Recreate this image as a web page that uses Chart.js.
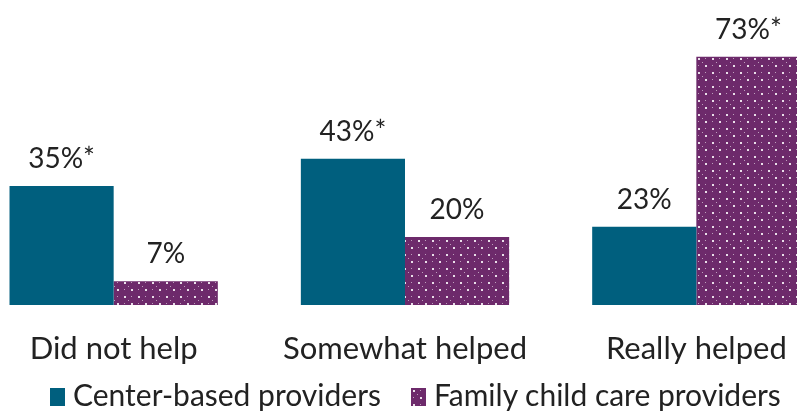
<!DOCTYPE html>
<html>
<head>
<meta charset="utf-8">
<script src="https://cdn.jsdelivr.net/npm/chart.js@4"></script>
<style>
  html, body { margin: 0; padding: 0; background: #fff; }
  #frame { position: relative; width: 797px; height: 412px; overflow: hidden; }
  #wrap { position: absolute; left: -32px; top: 0; width: 874px; height: 412px; }
  #legend { position: absolute; left: 50px; top: 380px; display: flex; align-items: flex-start;
            font: 30px Lato; line-height: 29px; color: #222; white-space: nowrap; }
  #legend canvas { margin-top: 8px; margin-right: 8px; }
  #legend span { margin-right: 30px; }
</style>
</head>
<body>
<div id="frame">
  <div id="wrap"><canvas id="chart"></canvas></div>
  <div id="legend"></div>
</div>
<script>
const categories = ['Did not help', 'Somewhat helped', 'Really helped'];
const seriesNames = ['Center-based providers', 'Family child care providers'];
const centerValues = [35, 43, 23];
const familyValues = [7, 20, 73];
const centerLabels = ['35%*', '43%*', '23%'];
const familyLabels = ['7%', '20%', '73%*'];

const teal = '#005F7E';
const purple = '#6D2A6B';

// dotted purple fill
function makePattern(g) {
  const c = document.createElement('canvas');
  c.width = 14; c.height = 14;
  const p = c.getContext('2d');
  p.fillStyle = purple;
  p.fillRect(0, 0, 14, 14);
  p.fillStyle = 'rgba(255,255,255,0.85)';
  p.fillRect(2, 2, 2, 2);
  p.fillRect(9, 9, 2, 2);
  p.fillStyle = 'rgba(255,255,255,0.55)';
  p.fillRect(9, 2, 1, 1);
  p.fillRect(2, 9, 1, 1);
  p.fillRect(6, 6, 1, 1);
  return g.createPattern(c, 'repeat');
}

const ctx = document.getElementById('chart').getContext('2d');
const dotted = makePattern(ctx);

const barLabels = {
  id: 'barLabels',
  afterDatasetsDraw(chart) {
    const g = chart.ctx;
    g.save();
    g.font = '28px Lato';
    g.fillStyle = '#222';
    g.textAlign = 'center';
    g.textBaseline = 'alphabetic';
    const sets = [centerLabels, familyLabels];
    chart.data.datasets.forEach((ds, i) => {
      chart.getDatasetMeta(i).data.forEach((bar, j) => {
        g.fillText(sets[i][j], bar.x, bar.y - 18);
      });
    });
    g.restore();
  }
};

new Chart(ctx, {
  type: 'bar',
  data: {
    labels: categories,
    datasets: [
      {
        label: seriesNames[0],
        data: centerValues,
        backgroundColor: teal,
        barPercentage: 1,
        categoryPercentage: 0.715
      },
      {
        label: seriesNames[1],
        data: familyValues,
        backgroundColor: dotted,
        barPercentage: 1,
        categoryPercentage: 0.715
      }
    ]
  },
  options: {
    responsive: true,
    maintainAspectRatio: false,
    animation: false,
    layout: { padding: 0 },
    plugins: {
      legend: { display: false },
      tooltip: { enabled: false }
    },
    scales: {
      y: {
        display: false,
        min: 0,
        max: 89.7
      },
      x: {
        grid: { display: false, drawTicks: false },
        border: { display: false },
        ticks: {
          font: { family: 'Lato', size: 31 },
          color: '#222',
          padding: 25
        },
        afterFit(scale) { scale.height = 107; }
      }
    }
  },
  plugins: [barLabels]
});

// html legend
const legend = document.getElementById('legend');
[teal, null].forEach((fill, i) => {
  const box = document.createElement('canvas');
  box.width = 15; box.height = 18;
  const b = box.getContext('2d');
  b.fillStyle = fill || makePattern(b);
  b.fillRect(0, 0, 15, 18);
  const txt = document.createElement('span');
  txt.textContent = seriesNames[i];
  legend.appendChild(box);
  legend.appendChild(txt);
});
</script>
</body>
</html>
